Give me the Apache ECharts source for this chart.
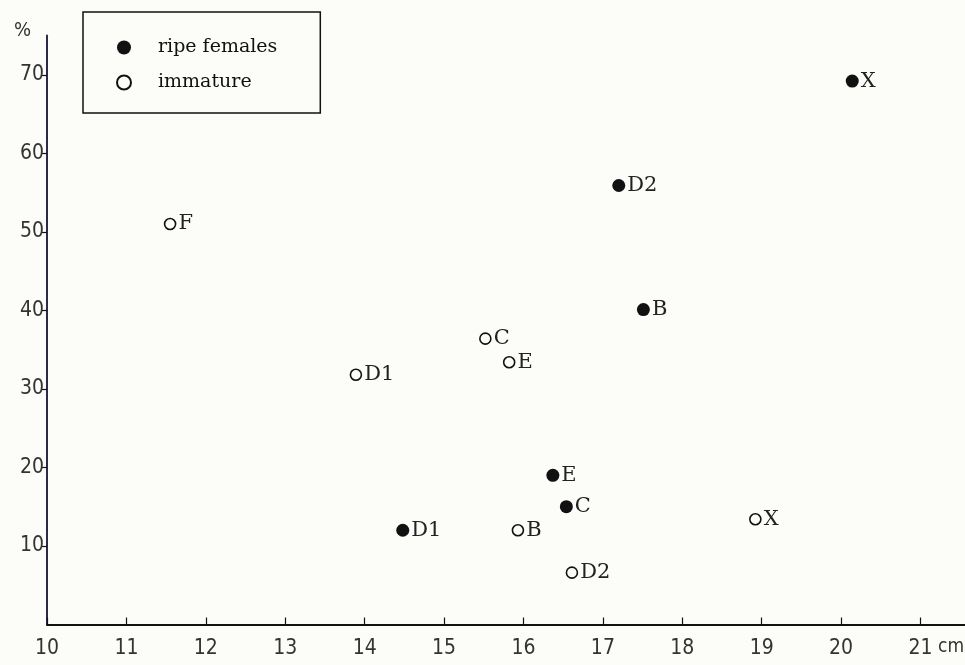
<!DOCTYPE html>
<html><head><meta charset="utf-8">
<script src="https://cdn.jsdelivr.net/npm/echarts@6/dist/echarts.min.js"></script>
<style>html,body{margin:0;padding:0;background:#fcfcf8}#c{width:965px;height:665px}</style>
</head><body><div id="c"></div>
<script>
// Data
const ripeX = [20.14, 17.20, 17.51, 16.37, 16.54, 14.48];
const ripeY = [69.2, 55.9, 40.1, 19.0, 15.0, 12.0];
const ripeLabels = ['X', 'D2', 'B', 'E', 'C', 'D1'];
const immX = [11.55, 15.52, 15.82, 13.89, 15.93, 16.61, 18.92];
const immY = [51.0, 36.4, 33.4, 31.8, 12.0, 6.6, 13.4];
const immLabels = ['F', 'C', 'E', 'D1', 'B', 'D2', 'X'];
const seriesNames = ['ripe females', 'immature'];
const xTicks = [10, 11, 12, 13, 14, 15, 16, 17, 18, 19, 20, 21];
const yTicks = [10, 20, 30, 40, 50, 60, 70];

const ink = '#111';
const axisFont = '"DejaVu Sans Condensed","Liberation Sans Narrow","DejaVu Sans",sans-serif';
const serif = '"DejaVu Serif","Liberation Serif",serif';

function mk(xs, ys, ls) { return xs.map((x, i) => ({ value: [x, ys[i]], label: ls[i] })); }

const chart = echarts.init(document.getElementById('c'), null, { renderer: 'canvas' });
chart.setOption({
  backgroundColor: '#fcfcf8',
  animation: false,
  grid: { left: 47, right: 0, top: 35.5, bottom: 40.5, outerBoundsMode: 'none', containLabel: false },
  xAxis: {
    type: 'value', min: 10, max: 21.56, interval: 1,
    axisLine: { lineStyle: { color: ink, width: 2 } },
    axisTick: { inside: true, length: 7, customValues: xTicks, lineStyle: { color: ink, width: 1.2 } },
    axisLabel: { color: '#333', fontSize: 21, fontFamily: axisFont, margin: 14, customValues: xTicks },
    splitLine: { show: false }
  },
  yAxis: {
    type: 'value', min: 0, max: 75, interval: 10,
    name: '%', nameLocation: 'end', nameGap: 5,
    nameTextStyle: { color: '#333', fontSize: 20, fontFamily: axisFont, align: 'right', verticalAlign: 'middle', padding: [0, 16, 0, 0] },
    axisLine: { lineStyle: { color: '#2a2a4a', width: 2 } },
    axisTick: { inside: false, length: 6, customValues: yTicks, lineStyle: { color: ink, width: 1.2 } },
    axisLabel: { color: '#333', fontSize: 21, fontFamily: axisFont, margin: 3, customValues: yTicks },
    splitLine: { show: false }
  },
  legend: {
    left: 83, top: 12, orient: 'vertical',
    data: seriesNames,
    backgroundColor: '#fcfcf8',
    borderColor: ink, borderWidth: 1.5,
    padding: [26, 43, 21, 33],
    itemWidth: 14, itemHeight: 14, itemGap: 16,
    textStyle: { color: ink, fontFamily: serif, fontSize: 19, padding: [0, 0, 0, 22] }
  },
  graphic: [{
    type: 'text', left: 938, top: 638,
    style: { text: 'cm', fill: '#333', font: '19px ' + axisFont }
  }],
  series: [
    {
      name: seriesNames[0], type: 'scatter', symbol: 'circle', symbolSize: 13,
      itemStyle: { color: ink, borderColor: ink, borderWidth: 0, opacity: 1 },
      label: { show: true, position: 'right', distance: 2, formatter: p => p.data.label,
        color: '#222', fontFamily: serif, fontSize: 21 },
      data: mk(ripeX, ripeY, ripeLabels)
    },
    {
      name: seriesNames[1], type: 'scatter', symbol: 'circle', symbolSize: 11,
      itemStyle: { color: '#fcfcf8', borderColor: ink, borderWidth: 1.6, opacity: 1 },
      label: { show: true, position: 'right', distance: 2, formatter: p => p.data.label,
        color: '#222', fontFamily: serif, fontSize: 21 },
      data: mk(immX, immY, immLabels)
    }
  ]
});
</script></body></html>
